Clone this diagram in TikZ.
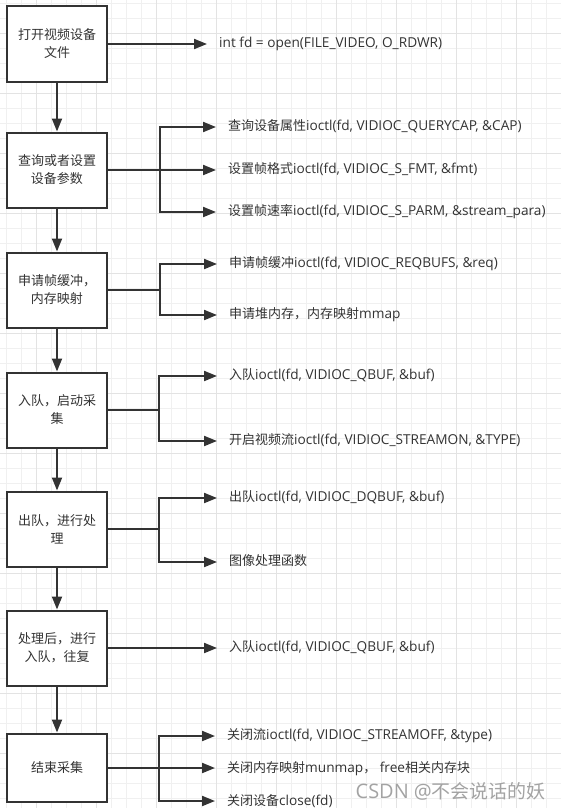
\documentclass[tikz,border=0pt]{standalone}
\usepackage{fontspec}
\setmainfont{Open Sans}[Scale=1.05]
\newfontfamily\cjk{Noto Sans CJK SC}
\usetikzlibrary{positioning,arrows.meta}
\definecolor{ink}{HTML}{333333}
\definecolor{gridmin}{HTML}{F0F0F0}
\definecolor{gridmaj}{HTML}{E3E3E3}
\definecolor{mark}{HTML}{A3A3A3}
\tikzset{
	stage/.style={draw=ink, line width=2pt, fill=white, minimum width=100pt, minimum height=75pt, inner sep=0pt, align=center, text=ink, font=\cjk\fontsize{13pt}{18pt}\selectfont},
	call/.style={anchor=west, inner xsep=12pt, inner ysep=0pt, text height=0.88em, text depth=0.12em, text=ink, font=\fontsize{13pt}{16pt}\selectfont},
	wire/.style={draw=ink, line width=2pt},
	arr/.style={draw=ink, line width=2pt, -{Triangle[length=13pt,width=10pt]}}
}

\begin{document}
\begin{tikzpicture}[x=1pt,y=-1pt]
		\useasboundingbox (0,0) rectangle (561,808);
		\fill[white] (0,0) rectangle (561,808);
		\foreach \x in {6.7,21.7,...,561} \draw[gridmin, line width=1pt] (\x,0) -- (\x,808);
		\foreach \y in {3.3,18.3,...,808} \draw[gridmin, line width=1pt] (0,\y) -- (561,\y);
		\foreach \x in {36.7,96.7,...,561} \draw[gridmaj, line width=1pt] (\x,0) -- (\x,808);
		\foreach \y in {33.3,93.3,...,808} \draw[gridmaj, line width=1pt] (0,\y) -- (561,\y);

		\node[stage] (st1) at (57,44) {打开视频设备\\文件};
		\node[stage, below=49pt of st1] (st2) {查询或者设置\\设备参数};
		\node[stage, below=43pt of st2] (st3) {申请帧缓冲，\\内存映射};
		\node[stage, below=43pt of st3] (st4) {入队，启动采\\集};
		\node[stage, below=42pt of st4] (st5) {出队，进行处\\理};
		\node[stage, below=42pt of st5] (st6) {处理后，进行\\入队，往复};
		\node[stage, minimum height=68pt, below=46pt of st6] (st7) {结束采集};

		\coordinate[right=52pt of st2.east] (j2);
		\coordinate[right=52pt of st3.east] (j3);
		\coordinate[right=51pt of st4.east] (j4);
		\coordinate[right=51pt of st5.east] (j5);
		\coordinate[right=51pt of st7.east] (j7);

		\node[call] (c1) at (207,44) {int fd = open(FILE\_VIDEO, O\_RDWR)};
		\node[call] (c21) at (216,127) {{\cjk 查询设备属性}ioctl(fd, VIDIOC\_QUERYCAP, \&CAP)};
		\node[call] (c22) at (216,170) {{\cjk 设置帧格式}ioctl(fd, VIDIOC\_S\_FMT, \&fmt)};
		\node[call] (c23) at (216,212) {{\cjk 设置帧速率}ioctl(fd, VIDIOC\_S\_PARM, \&stream\_para)};
		\node[call] (c31) at (217,264) {{\cjk 申请帧缓冲}ioctl(fd, VIDIOC\_REQBUFS, \&req)};
		\node[call] (c32) at (217,315) {{\cjk 申请堆内存，内存映射}mmap};
		\node[call] (c41) at (217,376) {{\cjk 入队}ioctl(fd, VIDIOC\_QBUF, \&buf)};
		\node[call] (c42) at (217,441) {{\cjk 开启视频流}ioctl(fd, VIDIOC\_STREAMON, \&TYPE)};
		\node[call] (c51) at (217,498) {{\cjk 出队}ioctl(fd, VIDIOC\_DQBUF, \&buf)};
		\node[call] (c52) at (217,562) {{\cjk 图像处理函数}};
		\node[call] (c6) at (217,648) {{\cjk 入队}ioctl(fd, VIDIOC\_QBUF, \&buf)};
		\node[call] (c71) at (215,736) {{\cjk 关闭流}ioctl(fd, VIDIOC\_STREAMOFF, \&type)};
		\node[call] (c72) at (215,768) {{\cjk 关闭内存映射}munmap{\cjk ，} free{\cjk 相关内存块}};
		\node[call] (c73) at (215,801) {{\cjk 关闭设备}close(fd)};

		\node[anchor=west, text=mark, font=\fontsize{19pt}{19pt}\selectfont] (wm) at (352,791) {CSDN @{\cjk 不会说话的妖}};

		\draw[arr] (st1) -- (st2);
		\draw[arr] (st2) -- (st3);
		\draw[arr] (st3) -- (st4);
		\draw[arr] (st4) -- (st5);
		\draw[arr] (st5) -- (st6);
		\draw[arr] (st6) -- (st7);

		\draw[arr] (st1) -- (c1.west);
		\draw[wire] (st2) -- (j2);
		\draw[arr] (j2) |- (c21.west);
		\draw[arr] (j2) |- (c22.west);
		\draw[arr] (j2) |- (c23.west);
		\draw[wire] (st3) -- (j3);
		\draw[arr] (j3) |- (c31.west);
		\draw[arr] (j3) |- (c32.west);
		\draw[wire] (st4) -- (j4);
		\draw[arr] (j4) |- (c41.west);
		\draw[arr] (j4) |- (c42.west);
		\draw[wire] (st5) -- (j5);
		\draw[arr] (j5) |- (c51.west);
		\draw[arr] (j5) |- (c52.west);
		\draw[arr] (st6) -- (c6.west);
		\draw[wire] (st7) -- (j7);
		\draw[arr] (j7) |- (c71.west);
		\draw[arr] (j7) |- (c72.west);
		\draw[arr] (j7) |- (c73.west);
\end{tikzpicture}
\end{document}
